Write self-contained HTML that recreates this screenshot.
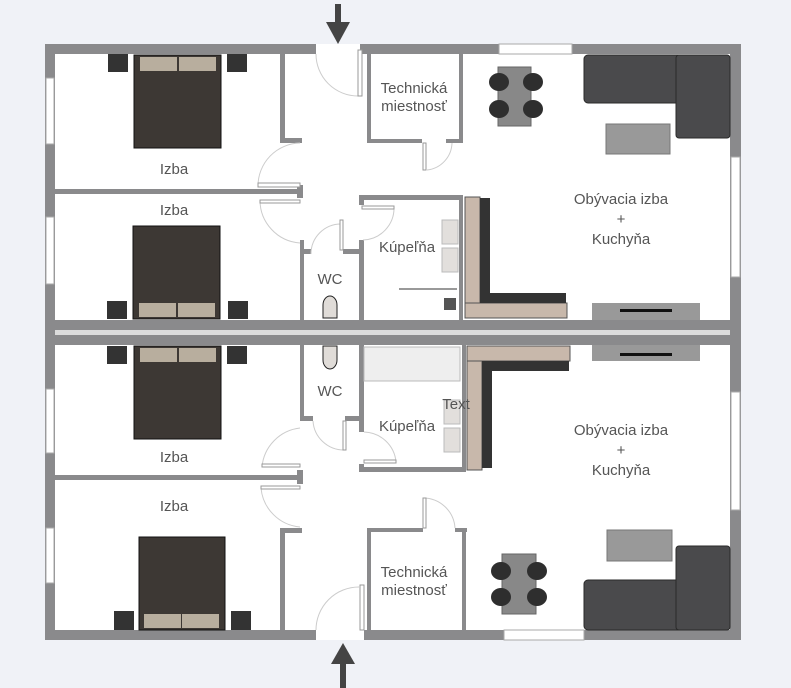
<!DOCTYPE html>
<html><head><meta charset="utf-8"><style>
html,body{margin:0;padding:0;background:#f0f2f7}
svg{display:block}
text{font-family:"Liberation Sans",sans-serif;fill:#555;font-size:15px;text-anchor:middle}
</style></head><body>
<svg width="791" height="688" viewBox="0 0 791 688" xmlns="http://www.w3.org/2000/svg">
<rect width="791" height="688" fill="#f0f2f7"/>
<rect x="55" y="54" width="675" height="266" fill="#fff"/>
<rect x="55" y="345" width="675" height="285" fill="#fff"/>
<g fill="#8a8a8c">
<rect x="45" y="44" width="271" height="10"/>
<rect x="360" y="44" width="381" height="10"/>
<rect x="45" y="44" width="10" height="596"/>
<rect x="730" y="44" width="11" height="596"/>
<rect x="45" y="320" width="696" height="25"/>
<rect x="45" y="630" width="271" height="10"/>
<rect x="364" y="630" width="377" height="10"/>
<rect x="55" y="189" width="245" height="5"/>
<rect x="280" y="54" width="5" height="89"/>
<rect x="280" y="138" width="22" height="5"/>
<rect x="297" y="185" width="6" height="13"/>
<rect x="367" y="54" width="4" height="89"/>
<rect x="367" y="139" width="55" height="4"/>
<rect x="446" y="139" width="17" height="4"/>
<rect x="459" y="54" width="4" height="89"/>
<rect x="360" y="195" width="103" height="5"/>
<rect x="359" y="195" width="5" height="10"/>
<rect x="359" y="240" width="5" height="80"/>
<rect x="459" y="195" width="4" height="125"/>
<rect x="300" y="240" width="4" height="80"/>
<rect x="300" y="249" width="11" height="5"/>
<rect x="343" y="249" width="18" height="5"/>
<rect x="300" y="345" width="4" height="75"/>
<rect x="300" y="416" width="13" height="5"/>
<rect x="345" y="416" width="18" height="5"/>
<rect x="359" y="345" width="5" height="87"/>
<rect x="359" y="464" width="5" height="8"/>
<rect x="360" y="467" width="106" height="5"/>
<rect x="462" y="345" width="4" height="127"/>
<rect x="55" y="475" width="245" height="5"/>
<rect x="297" y="470" width="6" height="14"/>
<rect x="280" y="528" width="22" height="5"/>
<rect x="280" y="528" width="5" height="102"/>
<rect x="367" y="528" width="56" height="4"/>
<rect x="455" y="528" width="12" height="4"/>
<rect x="367" y="528" width="4" height="102"/>
<rect x="462" y="528" width="4" height="102"/>
</g>
<rect x="55" y="330" width="675" height="5" fill="#dcdcdc"/>
<g fill="#fff" stroke="#aaa" stroke-width="1">
<rect x="499" y="44" width="73" height="10"/>
<rect x="46" y="78" width="8" height="66"/>
<rect x="46" y="217" width="8" height="67"/>
<rect x="46" y="389" width="8" height="64"/>
<rect x="46" y="528" width="8" height="55"/>
<rect x="731" y="157" width="9" height="120"/>
<rect x="731" y="392" width="9" height="118"/>
<rect x="504" y="630" width="80" height="10"/>
<rect x="316" y="44" width="44" height="10" stroke="none"/>
<rect x="316" y="630" width="48" height="10" stroke="none"/>
</g>
<g fill="none" stroke="#ccc" stroke-width="1">
<path d="M316 54 A42 42 0 0 0 358 96"/>
<path d="M300 143 A43 43 0 0 0 258 186"/>
<path d="M300 243 A43 43 0 0 1 260 200"/>
<path d="M311 254 A30 30 0 0 1 341 224"/>
<path d="M363 240 A32 32 0 0 0 394 207"/>
<path d="M427 170 A28 28 0 0 0 452 143"/>
<path d="M300 428 A43 43 0 0 0 262 467"/>
<path d="M300 527 A43 43 0 0 1 261 488"/>
<path d="M313 421 A31 31 0 0 0 344 450"/>
<path d="M364 432 A33 33 0 0 1 396 462"/>
<path d="M423 498 A32 32 0 0 1 455 528"/>
<path d="M316 630 A43 43 0 0 1 359 587"/>
</g>
<g fill="#fff" stroke="#999" stroke-width="1">
<rect x="358" y="50" width="4" height="46"/>
<rect x="258" y="183" width="42" height="4"/>
<rect x="260" y="200" width="40" height="3"/>
<rect x="340" y="220" width="3" height="30"/>
<rect x="362" y="206" width="32" height="3"/>
<rect x="423" y="143" width="3" height="27"/>
<rect x="262" y="464" width="38" height="3"/>
<rect x="261" y="486" width="39" height="3"/>
<rect x="343" y="421" width="3" height="29"/>
<rect x="364" y="460" width="32" height="3"/>
<rect x="423" y="498" width="3" height="30"/>
<rect x="360" y="585" width="4" height="45"/>
</g>
<g fill="#444">
<rect x="335" y="4" width="6" height="20"/><polygon points="326,22 350,22 338,44"/>
<rect x="340" y="664" width="6" height="24"/><polygon points="331,664 355,664 343,643"/>
</g>
<g>
<rect x="108" y="54" width="20" height="18" fill="#333"/><rect x="227" y="54" width="20" height="18" fill="#333"/>
<rect x="134" y="55" width="87" height="93" fill="#3d3834" stroke="#111"/>
<rect x="140" y="57" width="37" height="14" fill="#b8ae9e"/><rect x="179" y="57" width="37" height="14" fill="#b8ae9e"/>
<rect x="107" y="301" width="20" height="18" fill="#333"/><rect x="228" y="301" width="20" height="18" fill="#333"/>
<rect x="133" y="226" width="87" height="93" fill="#3d3834" stroke="#111"/>
<rect x="139" y="303" width="37" height="14" fill="#b8ae9e"/><rect x="178" y="303" width="37" height="14" fill="#b8ae9e"/>
<rect x="107" y="346" width="20" height="18" fill="#333"/><rect x="227" y="346" width="20" height="18" fill="#333"/>
<rect x="134" y="346" width="87" height="93" fill="#3d3834" stroke="#111"/>
<rect x="140" y="348" width="37" height="14" fill="#b8ae9e"/><rect x="179" y="348" width="37" height="14" fill="#b8ae9e"/>
<rect x="114" y="611" width="20" height="19" fill="#333"/><rect x="231" y="611" width="20" height="19" fill="#333"/>
<rect x="139" y="537" width="86" height="93" fill="#3d3834" stroke="#111"/>
<rect x="144" y="614" width="37" height="14" fill="#b8ae9e"/><rect x="182" y="614" width="37" height="14" fill="#b8ae9e"/>
</g>
<path d="M323 318 L323 305 A7 9 0 0 1 337 305 L337 318 Z" fill="#e0dcd8" stroke="#222"/>
<path d="M323 346 L323 360 A7 9 0 0 0 337 360 L337 346 Z" fill="#e0dcd8" stroke="#222"/>
<g fill="#e2dfdc" stroke="#bbb">
<rect x="442" y="220" width="16" height="24"/><rect x="442" y="248" width="16" height="24"/>
<rect x="444" y="400" width="16" height="24"/><rect x="444" y="428" width="16" height="24"/>
<rect x="364" y="347" width="96" height="34" fill="#eee"/>
</g>
<line x1="399" y1="289" x2="457" y2="289" stroke="#333"/>
<rect x="444" y="298" width="12" height="12" fill="#555"/>
<g>
<rect x="465" y="197" width="15" height="121" fill="#c8b8ab" stroke="#555"/>
<rect x="465" y="303" width="102" height="15" fill="#c8b8ab" stroke="#555"/>
<rect x="480" y="198" width="10" height="96" fill="#333"/>
<rect x="480" y="293" width="86" height="10" fill="#333"/>
<rect x="467" y="346" width="103" height="15" fill="#c8b8ab" stroke="#555"/>
<rect x="467" y="361" width="15" height="109" fill="#c8b8ab" stroke="#555"/>
<rect x="482" y="361" width="87" height="10" fill="#333"/>
<rect x="482" y="361" width="10" height="107" fill="#333"/>
</g>
<rect x="592" y="303" width="108" height="17" fill="#999"/>
<rect x="620" y="309" width="52" height="3" fill="#111"/>
<rect x="592" y="345" width="108" height="16" fill="#999"/>
<rect x="620" y="353" width="52" height="3" fill="#111"/>
<g fill="#4a4a4c" stroke="#2a2a2a">
<rect x="584" y="55" width="146" height="48" rx="4"/>
<rect x="676" y="55" width="54" height="83" rx="3"/>
<rect x="584" y="580" width="146" height="50" rx="4"/>
<rect x="676" y="546" width="54" height="84" rx="3"/>
</g>
<rect x="606" y="124" width="64" height="30" fill="#999" stroke="#777"/>
<rect x="607" y="530" width="65" height="31" fill="#999" stroke="#777"/>
<rect x="498" y="67" width="33" height="59" fill="#888" stroke="#666"/>
<g fill="#2e2e2e">
<ellipse cx="499" cy="82" rx="10" ry="9"/><ellipse cx="533" cy="82" rx="10" ry="9"/>
<ellipse cx="499" cy="109" rx="10" ry="9"/><ellipse cx="533" cy="109" rx="10" ry="9"/>
</g>
<rect x="502" y="554" width="34" height="60" fill="#888" stroke="#666"/>
<g fill="#2e2e2e">
<ellipse cx="501" cy="571" rx="10" ry="9"/><ellipse cx="537" cy="571" rx="10" ry="9"/>
<ellipse cx="501" cy="597" rx="10" ry="9"/><ellipse cx="537" cy="597" rx="10" ry="9"/>
</g>
<text x="174" y="174">Izba</text>
<text x="174" y="215">Izba</text>
<text x="174" y="462">Izba</text>
<text x="174" y="511">Izba</text>
<text x="414" y="93" font-size="14">Technická</text>
<text x="414" y="111" font-size="14">miestnosť</text>
<text x="414" y="577" font-size="14">Technická</text>
<text x="414" y="595" font-size="14">miestnosť</text>
<text x="330" y="284">WC</text>
<text x="330" y="396">WC</text>
<text x="407" y="252">Kúpeľňa</text>
<text x="407" y="431">Kúpeľňa</text>
<text x="456" y="409" font-size="14">Text</text>
<text x="621" y="204">Obývacia izba</text>
<text x="621" y="224">+</text>
<text x="621" y="244">Kuchyňa</text>
<text x="621" y="435">Obývacia izba</text>
<text x="621" y="455">+</text>
<text x="621" y="475">Kuchyňa</text>
</svg>
</body></html>
